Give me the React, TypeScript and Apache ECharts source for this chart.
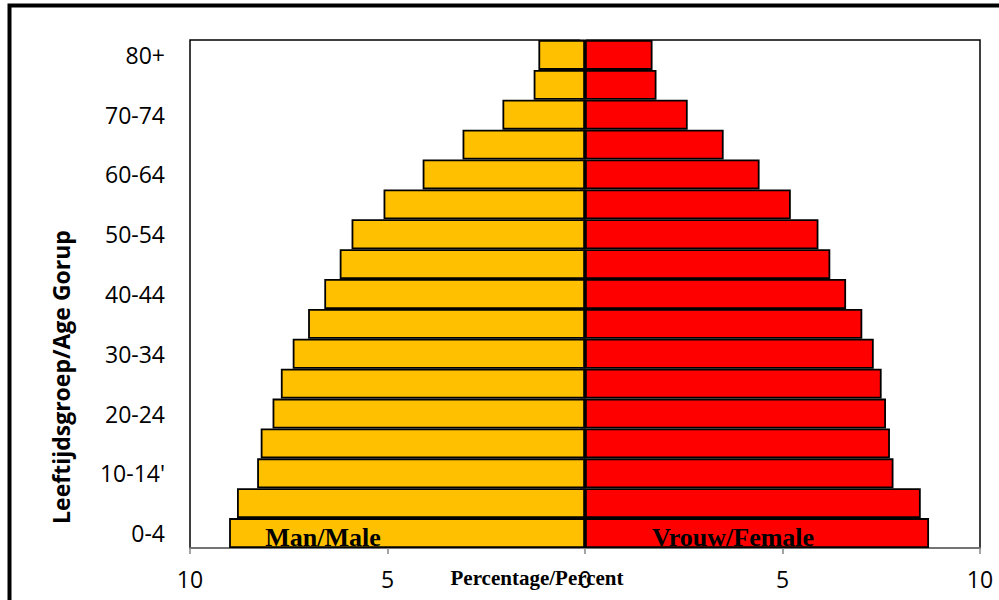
import React, { useEffect, useRef } from "react";
import * as echarts from "echarts";

const ageGroups = ["0-4", "5-9", "10-14'", "15-19", "20-24", "25-29", "30-34", "35-39", "40-44", "45-49", "50-54", "55-59", "60-64", "65-69", "70-74", "75-79", "80+"];
const maleValues = [9.01, 8.81, 8.3, 8.21, 7.91, 7.7, 7.4, 7.01, 6.6, 6.21, 5.91, 5.1, 4.11, 3.1, 2.09, 1.3, 1.18];
const femaleValues = [8.71, 8.5, 7.81, 7.72, 7.62, 7.51, 7.31, 7.02, 6.61, 6.21, 5.91, 5.21, 4.42, 3.51, 2.6, 1.81, 1.71];
const xTicks = { min: -10, max: 10, interval: 5 };

export default function App() {
  const ref = useRef<HTMLDivElement>(null);
  useEffect(() => {
    if (!ref.current) return;
    const chart = echarts.init(ref.current, null, { renderer: "svg" });
    const sans = "'Open Sans', 'Noto Sans', sans-serif";
    const serif = "'Liberation Serif', 'DejaVu Serif', serif";
    chart.setOption({
      animation: false,
      backgroundColor: "#fff",
      grid: {
        left: 190,
        right: 19,
        top: 40,
        bottom: 52,
        show: true,
        borderColor: "#000",
        borderWidth: 1.5,
        backgroundColor: "transparent",
      },
      xAxis: {
        type: "value",
        min: xTicks.min,
        max: xTicks.max,
        interval: xTicks.interval,
        splitLine: { show: false },
        axisLine: { show: true, onZero: false, lineStyle: { color: "#868686", width: 1.5 } },
        axisTick: { show: true, length: 6, lineStyle: { color: "#868686", width: 1.5 } },
        axisLabel: {
          formatter: (v: number) => String(Math.abs(v)),
          color: "#000",
          fontFamily: sans,
          fontSize: 23,
          margin: 19,
        },
      },
      yAxis: [
        {
          type: "category",
          data: ageGroups,
          position: "left",
          axisLine: { show: false, onZero: false },
          axisTick: { show: false },
          axisLabel: {
            interval: 1,
            color: "#000",
            fontFamily: sans,
            fontSize: 23,
            margin: 25,
          },
        },
        {
          type: "category",
          data: ageGroups,
          position: "left",
          axisLine: { show: true, onZero: true, lineStyle: { color: "#868686", width: 2 } },
          axisTick: { show: true, length: 5, lineStyle: { color: "#868686", width: 1.5 } },
          axisLabel: { show: false },
        },
      ],
      series: [
        {
          name: "Man/Male",
          type: "bar",
          stack: "pop",
          yAxisIndex: 0,
          barCategoryGap: "0%",
          data: maleValues.map((v) => -v),
          itemStyle: { color: "#FFC000", borderColor: "#000", borderWidth: 1.8 },
        },
        {
          name: "Vrouw/Female",
          type: "bar",
          stack: "pop",
          yAxisIndex: 0,
          barCategoryGap: "0%",
          data: femaleValues,
          itemStyle: { color: "#FF0000", borderColor: "#000", borderWidth: 1.8 },
        },
      ],
      graphic: [
        {
          type: "rect",
          shape: { x: 9.5, y: 5.5, width: 1100, height: 700 },
          style: { fill: "none", stroke: "#000", lineWidth: 4 },
          silent: true,
          z: 100,
        },
        {
          type: "text",
          x: 61,
          y: 377,
          rotation: Math.PI / 2,
          style: {
            text: "Leeftijdsgroep/Age Gorup",
            fontFamily: sans,
            fontWeight: "bold",
            fontSize: 23,
            fill: "#000",
            align: "center",
            verticalAlign: "middle",
          },
          z: 100,
        },
        {
          type: "text",
          x: 537,
          y: 578,
          style: {
            text: "Percentage/Percent",
            fontFamily: serif,
            fontWeight: "bold",
            fontSize: 21,
            fill: "#000",
            align: "center",
            verticalAlign: "middle",
          },
          z: 100,
        },
        {
          type: "text",
          x: 323,
          y: 537,
          style: {
            text: "Man/Male",
            fontFamily: serif,
            fontWeight: "bold",
            fontSize: 26,
            fill: "#000",
            align: "center",
            verticalAlign: "middle",
          },
          z: 100,
        },
        {
          type: "text",
          x: 733,
          y: 537,
          style: {
            text: "Vrouw/Female",
            fontFamily: serif,
            fontWeight: "bold",
            fontSize: 26,
            fill: "#000",
            align: "center",
            verticalAlign: "middle",
          },
          z: 100,
        },
      ],
    });
    return () => chart.dispose();
  }, []);
  return (
    <div
      ref={ref}
      style={{ position: "fixed", left: 0, top: 0, width: 999, height: 600 }}
    />
  );
}
